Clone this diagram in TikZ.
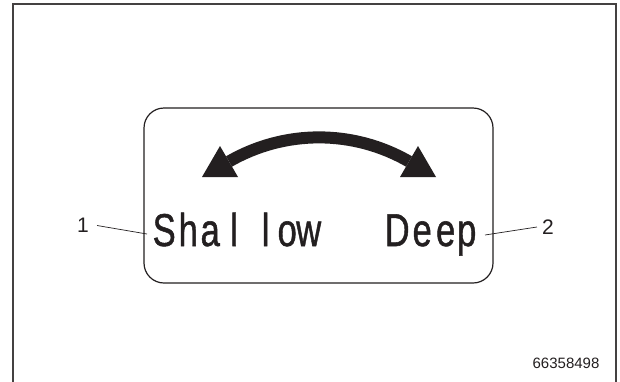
\documentclass[tikz,border=0pt]{standalone}
\usepackage{fontspec}
\setmainfont{Liberation Sans}
\newfontfamily\wordf[FakeBold=1.2]{Liberation Sans}
\definecolor{ink}{RGB}{35,31,32}
\newcommand\gl[1]{\makebox[0pt][c]{\scalebox{0.75}[1]{#1}}}
\begin{document}
\begin{tikzpicture}[x=1pt,y=-1pt,
  frameline/.style={draw=ink!85,line width=1.4pt},
  boxline/.style={draw=ink,line width=1.2pt,rounded corners=20pt},
  leader/.style={draw=ink,line width=0.7pt},
  num/.style={inner sep=0pt,font=\fontsize{21}{21}\selectfont,text=ink},
  bigword/.style={anchor=base west,inner sep=0pt,text=ink,font=\wordf\fontsize{46}{46}\selectfont},
  head/.style={fill=ink}]
\useasboundingbox (0,0) rectangle (620,381);
\clip (0,0) rectangle (620,381);
\fill[white] (0,0) rectangle (620,381);
% outer frame
\draw[frameline] (13,390) -- (13,4) -- (616,4) -- (616,390);
% rounded box
\draw[boxline] (144,108) rectangle (493,283);
% curved double arrow
\draw[ink,line width=12pt] (229,161.5) arc[start angle=240,end angle=300,radius=180];
\fill[head] (202,177) -- (220,146) -- (238,177) -- cycle;
\fill[head] (436,177) -- (418,146) -- (400,177) -- cycle;
% words
\node[bigword] (shallow) at (164,246) {\gl{S}\hspace{24pt}\gl{h}\hspace{22pt}\gl{a}\hspace{24pt}\gl{l}\hspace{31.5pt}\gl{l}\hspace{21.5pt}\gl{o}\hspace{21.5pt}\gl{w}};
\node[bigword] (deep) at (397,246) {\gl{D}\hspace{25pt}\gl{e}\hspace{23.5pt}\gl{e}\hspace{21pt}\gl{p}};
% callout numbers
\node[num] (n1) at (83,225.5) {1};
\node[num] (n2) at (548,227) {2};
\coordinate (e1) at (147,234);
\coordinate (e2) at (485,235);
\draw[leader] ([xshift=8pt]n1.east) -- (e1);
\draw[leader] ([xshift=-5pt]n2.west) -- (e2);
% figure id
\node[inner sep=0pt,font=\fontsize{15}{15}\selectfont,text=ink] (fid) at (566,363) {66358498};
\end{tikzpicture}
\end{document}
